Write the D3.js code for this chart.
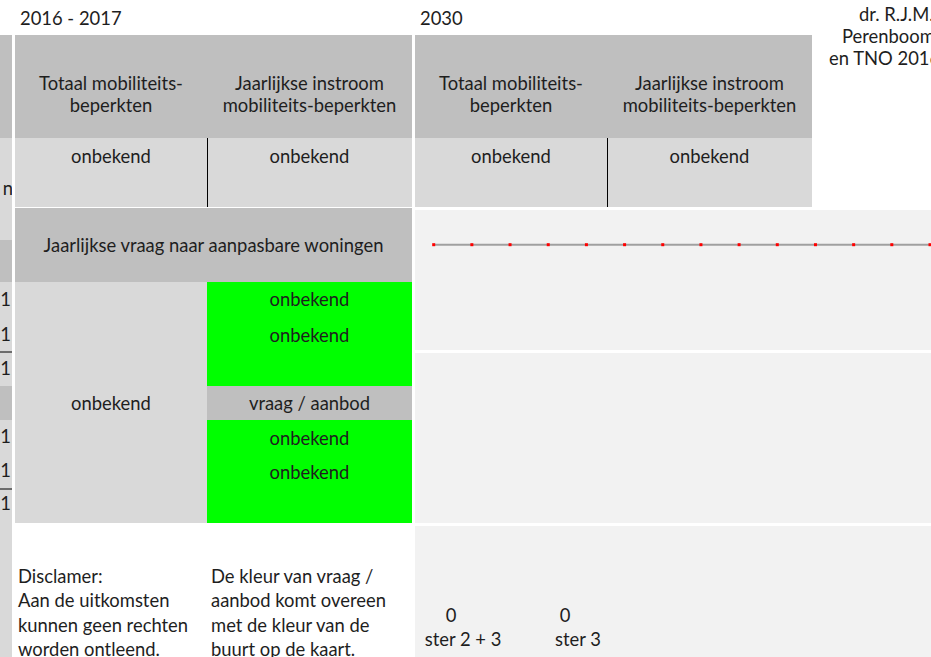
<!DOCTYPE html>
<html lang="nl">
<head>
    <meta charset="UTF-8">
    <title>Mobiliteitsbeperkten</title>
    <script src="https://d3js.org/d3.v7.min.js"></script>
    <style>
        body { margin: 0; background: #fff; }
        svg { display: block; font-family: Lato, "Open Sans", sans-serif; }
        text { fill: #1e1e1e; }
    </style>
</head>
<body>
    <div id="plot"></div>

    <script>
        // data
        let periods = ['2016 - 2017', '2030'];
        let headerLabels = [
            ['Totaal mobiliteits-', 'beperkten'],
            ['Jaarlijkse instroom', 'mobiliteits-beperkten']
        ];
        let mobilityValues = [
            ['onbekend', 'onbekend'],
            ['onbekend', 'onbekend']
        ];
        let demandTitle = 'Jaarlijkse vraag naar aanpasbare woningen';
        let demandTotal = 'onbekend';
        let demandTop = ['onbekend', 'onbekend'];
        let demandBottom = ['onbekend', 'onbekend'];
        let ratioLabel = 'vraag / aanbod';
        let trendIndex = [1, 2, 3, 4, 5, 6, 7, 8, 9, 10, 11, 12, 13, 14];
        let trendValues = [0, 0, 0, 0, 0, 0, 0, 0, 0, 0, 0, 0, 0, 0];
        let sterValues = [0, 0];
        let sterLabels = ['ster 2 + 3', 'ster 3'];
        let disclaimer = ['Disclamer:', 'Aan de uitkomsten', 'kunnen geen rechten', 'worden ontleend.'];
        let colourNote = ['De kleur van vraag /', 'aanbod komt overeen', 'met de kleur van de', 'buurt op de kaart.'];
        let source = ['dr. R.J.M.', 'Perenboom', 'en TNO 2016'];
        let stripLabels = ['1', '1', '1', '1', '1', '1'];

        let svgWidth = 931, svgHeight = 657;
        let fs = 18.4;

        let svg = d3.select('#plot')
            .append('svg')
            .attr('width', svgWidth)
            .attr('height', svgHeight);

        function box(x, y, w, h, fill) {
            svg.append('rect').attr('x', x).attr('y', y)
                .attr('width', w).attr('height', h).attr('fill', fill);
        }
        function label(t, x, y, anchor) {
            return svg.append('text').attr('x', x).attr('y', y)
                .attr('text-anchor', anchor || 'middle')
                .style('font-size', fs + 'px')
                .text(t);
        }
        function vline(x, y1, y2) {
            svg.append('line').attr('x1', x).attr('x2', x).attr('y1', y1).attr('y2', y2)
                .attr('stroke', '#000').attr('stroke-width', 1);
        }

        // left strip (cut off at the edge)
        svg.append('clipPath').attr('id', 'strip')
            .append('rect').attr('x', 0).attr('y', 0).attr('width', 12).attr('height', svgHeight);
        box(0, 35, 12, 103, '#bfbfbf');
        box(0, 138, 12, 102, '#d9d9d9');
        box(0, 240, 12, 42, '#bfbfbf');
        box(0, 282, 12, 375, '#d9d9d9');
        box(0, 386, 12, 34, '#bfbfbf');
        let strip = svg.append('g').attr('clip-path', 'url(#strip)');
        strip.append('text').attr('x', 13).attr('y', 195).attr('text-anchor', 'end')
            .style('font-size', fs + 'px').text('n');
        let stripY = [306, 341, 375, 443, 477, 510];
        strip.selectAll('text.s').data(stripLabels).enter().append('text')
            .attr('class', 's')
            .attr('x', 11).attr('y', (d, i) => stripY[i])
            .attr('text-anchor', 'end')
            .style('font-size', fs + 'px').text(d => d);
        [352, 489].forEach(y => strip.append('line').attr('x1', 0).attr('x2', 12)
            .attr('y1', y).attr('y2', y).attr('stroke', '#000'));

        // two period blocks
        let blockX = [15, 415];
        let blockW = 397;
        let split = 192;
        periods.forEach(function(p, b) {
            let x0 = blockX[b];
            label(p, x0 + 5, 25, 'start');
            box(x0, 35, blockW, 103, '#bfbfbf');
            box(x0, 138, blockW, 69, '#d9d9d9');
            let centers = [x0 + split / 2, x0 + split + (blockW - split) / 2];
            headerLabels.forEach(function(lines, c) {
                lines.forEach((l, k) => label(l, centers[c], 90 + k * 22));
                label(mobilityValues[b][c], centers[c], 163);
            });
            vline(x0 + split + 0.5, 138, 207);
        });

        // demand table
        box(15, 208, 397, 74, '#bfbfbf');
        label(demandTitle, 213.5, 252);
        box(15, 282, 192, 241, '#d9d9d9');
        label(demandTotal, 111, 410);
        box(207, 282, 205, 104, '#00ff00');
        box(207, 386, 205, 34, '#bfbfbf');
        box(207, 420, 205, 103, '#00ff00');
        demandTop.forEach((d, i) => label(d, 309.5, 306 + i * 36));
        label(ratioLabel, 309.5, 410);
        demandBottom.forEach((d, i) => label(d, 309.5, 445 + i * 34));

        // notes
        disclaimer.forEach((d, i) => label(d, 18, 583 + i * 24.3, 'start'));
        colourNote.forEach((d, i) => label(d, 211, 583 + i * 24.3, 'start'));

        // source text
        let srcX = [859, 842, 829];
        source.forEach((d, i) => label(d, srcX[i], 21 + i * 22, 'start'));

        // right panels
        box(415, 210, 516, 140, '#f2f2f2');
        box(415, 353, 516, 170, '#f2f2f2');
        box(415, 526, 516, 131, '#f2f2f2');

        // trend line
        let x = d3.scaleLinear().domain([1, 14]).range([433.7, 930]);
        let y = d3.scaleLinear().domain([0, 1]).range([244.7, 215]);
        let line = d3.line().x((d, i) => x(trendIndex[i])).y(d => y(d));
        svg.append('path').datum(trendValues)
            .attr('d', line)
            .attr('fill', 'none')
            .attr('stroke', '#a0a0a0')
            .attr('stroke-width', 2);
        svg.selectAll('rect.pt').data(trendValues).enter().append('rect')
            .attr('class', 'pt')
            .attr('x', (d, i) => x(trendIndex[i]) - 1.5)
            .attr('y', d => y(d) - 1.5)
            .attr('width', 3).attr('height', 3)
            .attr('fill', '#ff0000');

        // ster counts
        let sx = d3.scalePoint().domain(sterLabels).range([463, 578]);
        let sterX = [451, 565];
        sterValues.forEach((v, i) => label(v, sterX[i], 622));
        sterLabels.forEach(l => label(l, sx(l), 646));
    </script>
</body>
</html>
